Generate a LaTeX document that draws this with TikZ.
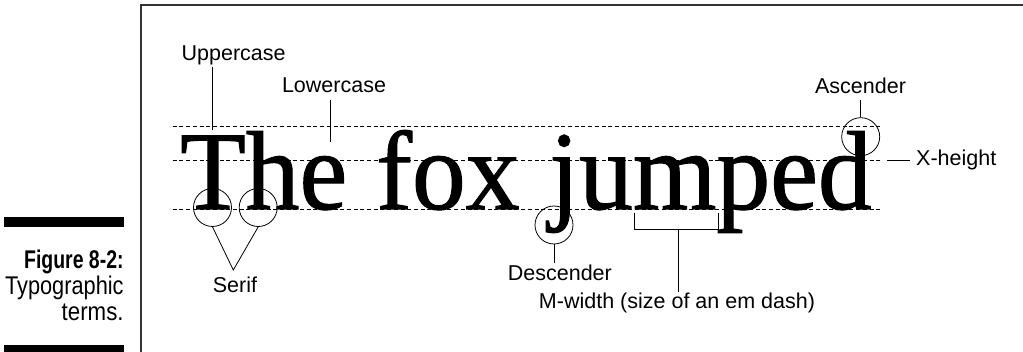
\documentclass[tikz,border=0pt]{standalone}
\usepackage{graphicx}
\usepackage{fontspec}
\setmainfont{Liberation Sans}
\newfontfamily\bigserif{Liberation Serif}[FakeBold=1]
\newcommand\lblfont{\fontsize{21.5}{24}\selectfont}
\newcommand\capfont{\fontsize{25.6}{26}\selectfont}
\newcommand\bigtext[1]{\scalebox{0.96}[1]{\bigserif\fontsize{112}{112}\selectfont #1}}
\tikzset{
  lbl/.style={font=\lblfont, inner sep=0pt, anchor=base},
  bigword/.style={inner sep=0pt, anchor=base west},
  capt/.style={font=\capfont, inner sep=0pt, anchor=base east},
  ring/.style={circle, draw, minimum size=38pt, inner sep=0pt, line width=0.8pt},
  guide/.style={line width=0.7pt, dash pattern=on 4pt off 2.7pt},
  conn/.style={line width=0.8pt},
  frameline/.style={line width=1.8pt, black!80}
}
\begin{document}
\begin{tikzpicture}[x=1pt,y=-1pt]
\useasboundingbox (0,0) rectangle (1023,352);
% frame
\draw[frameline] (141,352) -- (141,4.7) -- (1023,4.7);
% caption area
\fill (4,217.3) rectangle (124,227.3);
\fill (4,345) rectangle (124,352);
\node[capt] (cap1) at (123.8,268.5) {\scalebox{0.76}[1]{\bfseries Figure 8-2:}};
\node[capt] (cap2) at (123.8,294.8) {\scalebox{0.85}[1]{Typographic}};
\node[capt] (cap3) at (123.8,320.5) {\scalebox{0.87}[1]{terms.}};
% guide lines
\draw[guide] (172.7,126) -- (881.7,126);
\draw[guide] (172.7,160) -- (881.7,160);
\draw[guide] (172.7,209) -- (881.7,209);
% big text
\node[bigword] (the) at (179.9,209) {\bigtext{The}};
\node[bigword] (fox) at (376,209) {\bigtext{fox}};
\node[bigword] (jumped) at (549,209) {\bigtext{jumped}};
% circles
\node[ring] (serif1) at (212.5,207.5) {};
\node[ring] (serif2) at (258.2,207.5) {};
\node[ring] (desc) at (554,225) {};
\node[ring] (asc) at (860.7,136.7) {};
% labels
\node[lbl, anchor=base west] (uplbl) at (181.5,61) {Uppercase};
\node[lbl, anchor=base west] (lowlbl) at (281.8,92.7) {Lowercase};
\node[lbl] (asclbl) at (860.5,93.3) {Ascender};
\node[lbl, anchor=base west] (xlbl) at (916,166) {X-height};
\node[lbl, anchor=base west] (desclbl) at (507.7,280.7) {Descender};
\node[lbl] (seriflbl) at (235,293) {Serif};
\node[lbl] (mlbl) at (677,308.3) {M-width (size of an em dash)};
% connectors
\coordinate (upend) at (212.3,130);
\draw[conn, shorten >=1.2pt] (upend) -- (upend |- uplbl.south);
\coordinate (lowend) at (330,141.7);
\draw[conn, shorten >=6.6pt] (lowend) -- (lowend |- lowlbl.south);
\draw[conn, shorten >=6pt] (asc.north) -- (asc.north |- asclbl.south);
\coordinate (xend) at (887,160);
\draw[conn, shorten >=6pt] (xend) -- (xend -| xlbl.west);
\draw[conn, shorten >=1.7pt] (desc.south) -- (desc.south |- desclbl.north);
\coordinate (sv) at (233.3,270);
\draw[conn] (serif1.south) -- (sv) -- (serif2.south);
\coordinate (mL) at (634.3,213.3);
\coordinate (mR) at (718.3,213.3);
\coordinate (mmid) at (678.3,229.3);
\draw[conn] (mL) -- (mL |- mmid) -- (mR |- mmid) -- (mR);
\draw[conn, shorten >=1pt] (mmid) -- (mmid |- mlbl.north);
\end{tikzpicture}
\end{document}
